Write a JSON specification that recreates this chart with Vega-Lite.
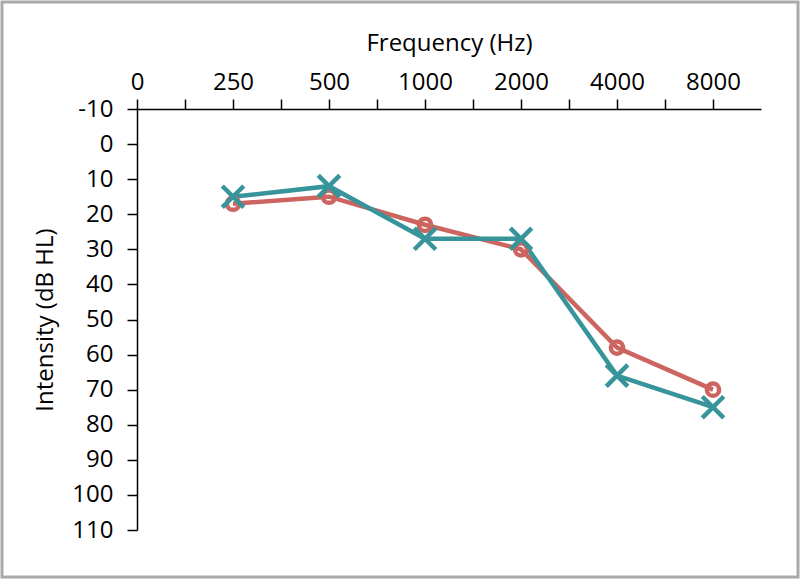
{
  "$schema": "https://vega.github.io/schema/vega-lite/v6.json",
  "autosize": {"type": "none"},
  "padding": 2,
  "width": 796,
  "height": 575,
  "background": "#ffffff",
  "config": {
    "view": {"stroke": "#aaaaaa", "strokeWidth": 3},
    "font": "Open Sans"
  },
  "data": {
    "values": [
      {"step": 2, "freq": "250", "db": 17, "ear": "right"},
      {"step": 4, "freq": "500", "db": 15, "ear": "right"},
      {"step": 6, "freq": "1000", "db": 23, "ear": "right"},
      {"step": 8, "freq": "2000", "db": 30, "ear": "right"},
      {"step": 10, "freq": "4000", "db": 58, "ear": "right"},
      {"step": 12, "freq": "8000", "db": 70, "ear": "right"},
      {"step": 2, "freq": "250", "db": 15, "ear": "left"},
      {"step": 4, "freq": "500", "db": 12, "ear": "left"},
      {"step": 6, "freq": "1000", "db": 27, "ear": "left"},
      {"step": 8, "freq": "2000", "db": 27, "ear": "left"},
      {"step": 10, "freq": "4000", "db": 66, "ear": "left"},
      {"step": 12, "freq": "8000", "db": 75, "ear": "left"}
    ]
  },
  "encoding": {
    "x": {
      "field": "step", "type": "quantitative",
      "scale": {"domain": [0, 13], "range": [135, 759], "nice": false, "zero": false},
      "axis": {
        "orient": "top", "offset": -107,
        "values": [0, 1, 2, 3, 4, 5, 6, 7, 8, 9, 10, 11, 12],
        "labelExpr": "datum.value % 2 == 0 ? ['0','250','500','1000','2000','4000','8000'][datum.value / 2] : ''",
        "grid": false, "tickSize": 10, "tickWidth": 1.5, "tickColor": "#000000",
        "domainColor": "#000000", "domainWidth": 1.5,
        "labelFontSize": 24, "labelColor": "#000000", "labelPadding": 5,
        "labelFlush": false, "labelOverlap": false,
        "title": "Frequency (Hz)", "titleFontSize": 24, "titleFontWeight": "normal",
        "titleColor": "#000000", "titlePadding": 15
      }
    },
    "y": {
      "field": "db", "type": "quantitative",
      "scale": {"domain": [-10, 110], "range": [107, 528], "nice": false, "zero": false},
      "axis": {
        "orient": "left", "offset": -135,
        "values": [-10, 0, 10, 20, 30, 40, 50, 60, 70, 80, 90, 100, 110],
        "labelExpr": "'' + datum.value",
        "grid": false, "tickSize": 10, "tickWidth": 1.5, "tickColor": "#000000",
        "domainColor": "#000000", "domainWidth": 1.5,
        "labelFontSize": 24, "labelColor": "#000000", "labelPadding": 14,
        "labelFlush": false, "labelOverlap": false,
        "title": "Intensity (dB HL)", "titleFontSize": 24, "titleFontWeight": "normal",
        "titleColor": "#000000", "titlePadding": 14
      }
    },
    "color": {
      "field": "ear", "type": "nominal",
      "scale": {"domain": ["right", "left"], "range": ["#cc6560", "#37949a"]},
      "legend": null
    }
  },
  "layer": [
    {"mark": {"type": "line", "strokeWidth": 4.5}},
    {
      "transform": [{"filter": "datum.ear == 'right'"}],
      "mark": {"type": "point", "shape": "circle", "filled": false, "size": 150, "strokeWidth": 4.5, "opacity": 1}
    },
    {
      "transform": [{"filter": "datum.ear == 'left'"}],
      "mark": {"type": "point", "shape": "M-1,-1L1,1M-1,1L1,-1", "filled": false, "size": 460, "strokeWidth": 4.5, "opacity": 1}
    }
  ]
}
